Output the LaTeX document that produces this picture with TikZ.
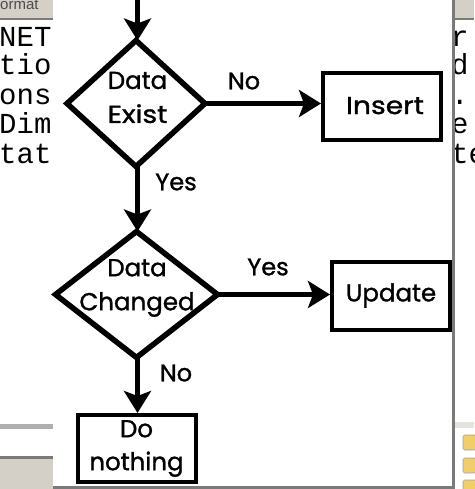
\documentclass[tikz,border=0pt]{standalone}
\usepackage{fontspec}
\setmainfont{Poppins}[FakeBold=1.2]
\newfontfamily\monof{Liberation Mono}
\newfontfamily\uif{Liberation Sans}
\usetikzlibrary{arrows.meta,shapes.geometric}
\definecolor{chrome}{HTML}{D4D0C8}
\definecolor{edgegrey}{HTML}{7A7A7A}
\definecolor{folder}{HTML}{F2CE6A}
\tikzset{
  x=1pt,y=-1pt,
  flow/.style={line width=5.5pt,-{Stealth[length=22pt,width=27pt,inset=5pt]}},
  boxn/.style={draw=black,line width=4pt,fill=white,inner sep=0pt,minimum width=118pt,minimum height=67pt,font=\fontsize{24.5}{33}\selectfont,align=center},
  dia/.style={draw=black,line width=5.5pt,fill=white,inner sep=0pt,outer sep=0pt,diamond},
  diatext/.style={inner sep=0pt,font=\fontsize{24.5}{34}\selectfont,align=center},
  lab/.style={font=\fontsize{24}{28}\selectfont,inner sep=0pt},
  mono/.style={font=\monof\fontsize{29}{29}\selectfont,inner sep=0pt,anchor=base west}
}
\begin{document}
\begin{tikzpicture}
\useasboundingbox (0,0) rectangle (474,489);
\fill[white] (0,0) rectangle (474,489);
% surrounding window chrome
\fill[chrome] (0,0) rectangle (53,18);
\fill[edgegrey] (0,18) rectangle (53,20);
\fill[chrome] (453,0) rectangle (474,18);
\fill[edgegrey] (453,18) rectangle (474,20);
\node[inner sep=0pt,anchor=base west,text=black!70,font=\uif\fontsize{15}{15}\selectfont] (fmt) at (0,10) {ormat};
\begin{scope}
\clip (0,0) rectangle (53,489);
\node[mono] (l1) at (-1,47) {NET};
\node[mono] (l2) at (-1,75) {tio};
\node[mono] (l3) at (-1,105) {ons};
\node[mono] (l4) at (-1,134) {Dim};
\node[mono] (l5) at (-1,163) {tat};
\end{scope}
\begin{scope}
\clip (454,0) rectangle (474,489);
\node[mono] (r1) at (451,47) {r};
\node[mono] (r2) at (451,75) {d};
\node[mono] (r3) at (451,105) {.};
\node[mono] (r4) at (451,134) {e};
\node[mono] (r5) at (451,163) {te};
\end{scope}
\fill[edgegrey!60] (0,424) rectangle (53,429);
\fill[chrome] (0,456) rectangle (53,489);
\fill[edgegrey] (0,456) rectangle (53,459);
\fill[chrome!60] (454,422) rectangle (474,428);
\fill[edgegrey] (53,486) rectangle (453,489);
\fill[edgegrey] (452,0) rectangle (455,489);
\foreach \yy in {435,458,480}{
  \fill[folder,draw=edgegrey!70,line width=.6pt,rounded corners=1.5pt] (463,\yy) rectangle (476,\yy+15);
}
% flowchart
\coordinate (top) at (137.5,-2);
\node[dia,minimum width=138pt,minimum height=126pt] (d1) at (136,103.5) {};
\node[dia,minimum width=162pt,minimum height=126pt] (d2) at (136.5,294.5) {};
\node[diatext] (d1txt) at (137.5,97.5) {Data\\\scalebox{1.15}[1]{Exist}};
\node[diatext] (d2txt) at (137,288) {Data\\Changed};
\node[boxn] (ins) at (382,107) {\hspace*{6pt}\raisebox{3pt}{\scalebox{1.15}[1]{Insert}}};
\node[boxn,minimum height=68pt] (upd) at (391,295.5) {\raisebox{2pt}{Update}};
\node[boxn] (don) at (136.5,448.5) {\raisebox{-2pt}{Do}\\\raisebox{-2pt}{nothing}};
\draw[flow] (top) -- (top |- d1.north);
\draw[flow] (d1.east) -- (ins.west |- d1.east);
\draw[flow] (top |- d1.south) -- (top |- d2.north);
\draw[flow] (d2.east) -- (upd.west |- d2.east);
\draw[flow] (top |- d2.south) -- (top |- don.north);
\node[lab] (ln1) at (244,81) {No};
\node[lab] (ly1) at (176,182) {Yes};
\node[lab] (ly2) at (268,267) {Yes};
\node[lab] (ln2) at (176,373) {No};
\end{tikzpicture}
\end{document}
